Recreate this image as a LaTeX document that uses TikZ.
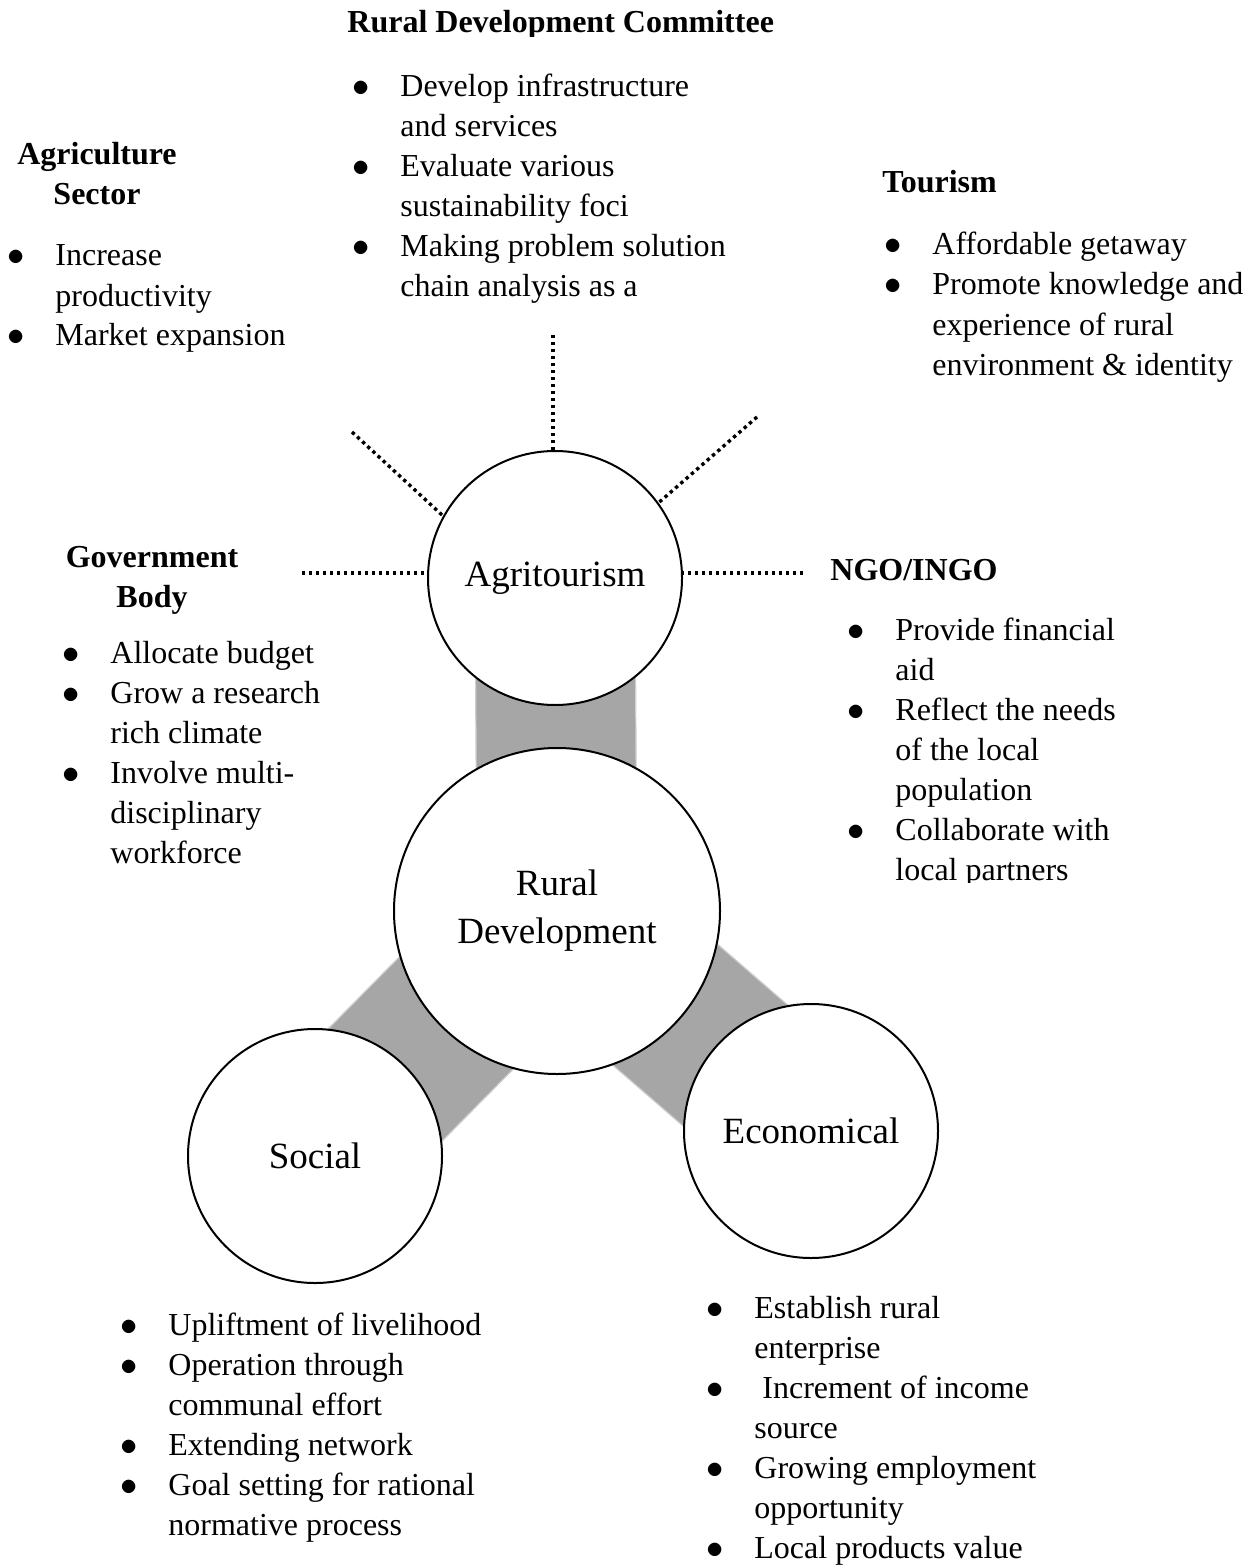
\documentclass[tikz,border=0pt]{standalone}
\usepackage{fontspec}
\setmainfont{Liberation Serif}
\usetikzlibrary{calc,backgrounds}
\definecolor{bandgray}{RGB}{166,166,166}
\definecolor{bandedge}{RGB}{208,208,208}
\newcommand{\bul}{\makebox[24pt][l]{$\bullet$}}
\newcommand{\ind}{\hspace*{24pt}}
\tikzset{
	hub/.style={circle,draw,line width=1pt,fill=white,minimum size=#1,inner sep=0pt,align=center,font=\fontsize{18.5}{24}\selectfont},
	band/.style={fill=bandgray,draw=bandedge,line width=0.6pt},
	spoke/.style={line width=1.7pt,dash pattern=on 1.7pt off 1.8pt},
	head/.style={inner sep=0pt,align=center,font=\fontsize{16}{20}\selectfont\bfseries},
	items/.style={inner sep=0pt,anchor=base west,align=left,font=\fontsize{16}{20}\selectfont}
}

\begin{document}
\begin{tikzpicture}[x=0.5pt,y=-0.5pt]
	\useasboundingbox (0,0) rectangle (1257,1567);

	\node [hub=127pt] (agri) at (555,578) {Agritourism};
	\node [hub=163pt] (rural) at (557,911) {Rural\\Development};
	\node [hub=127pt] (social) at (315,1156) {Social};
	\node [hub=127pt] (econ) at (811,1131) {Economical};

	\begin{scope}[on background layer]
		\foreach \a/\b in {agri/rural,rural/social,rural/econ}
			\draw [band] ($(\a.center)!40pt!90:(\b.center)$) -- ($(\b.center)!40pt!-90:(\a.center)$)
				-- ($(\b.center)!40pt!90:(\a.center)$) -- ($(\a.center)!40pt!-90:(\b.center)$) -- cycle;
	\end{scope}

	\coordinate (c-top) at (553,335);
	\coordinate (c-ul) at (352,432);
	\coordinate (c-ur) at (757,417);
	\coordinate (c-l) at (302,573);
	\coordinate (c-r) at (803,573);
	\draw [spoke] (c-top) -- (c-top |- agri.north);
	\draw [spoke] (c-ul) -- (agri.151);
	\draw [spoke] (c-ur) -- (agri.36);
	\draw [spoke] (c-l) -- (c-l -| agri.west);
	\draw [spoke] (c-r) -- (c-r -| agri.east);

	\begin{scope}
		\clip (330,0) rectangle (800,37);
		\node [head,anchor=base west] (rdc-h) at (347,33) {Rural Development Committee};
	\end{scope}
	\node [items] (rdc-l) at (352,297) {\bul Develop infrastructure\\\ind and services\\\bul Evaluate various\\\ind sustainability foci\\\bul Making problem solution\\\ind chain analysis as a};

	\node [head,anchor=base] (agr-h) at (97,205) {Agriculture\\Sector};
	\node [items] (agr-l) at (7,346) {\bul Increase\\\ind productivity\\\bul Market expansion};

	\node [head,anchor=base west] (tour-h) at (882,193) {Tourism};
	\node [items] (tour-l) at (884,375) {\bul Affordable getaway\\\bul Promote knowledge and\\\ind experience of rural\\\ind environment \& identity};

	\node [head,anchor=base] (gov-h) at (152,607) {Government\\Body};
	\node [items] (gov-l) at (62,863) {\bul Allocate budget\\\bul Grow a research\\\ind rich climate\\\bul Involve multi-\\\ind disciplinary\\\ind workforce};

	\node [head,anchor=base west] (ngo-h) at (830,580) {NGO/INGO};
	\begin{scope}
		\clip (820,600) rectangle (1257,882);
		\node [items] (ngo-l) at (847,880) {\bul Provide financial\\\ind aid\\\bul Reflect the needs\\\ind of the local\\\ind population\\\bul Collaborate with\\\ind local partners};
	\end{scope}

	\node [items] (soc-l) at (120,1535) {\bul Upliftment of livelihood\\\bul Operation through\\\ind communal effort\\\bul Extending network\\\bul Goal setting for rational\\\ind normative process};

	\node [items] (eco-l) at (706,1558) {\bul Establish rural\\\ind enterprise\\\bul\ Increment of income\\\ind source\\\bul Growing employment\\\ind opportunity\\\bul Local products value};
\end{tikzpicture}
\end{document}
